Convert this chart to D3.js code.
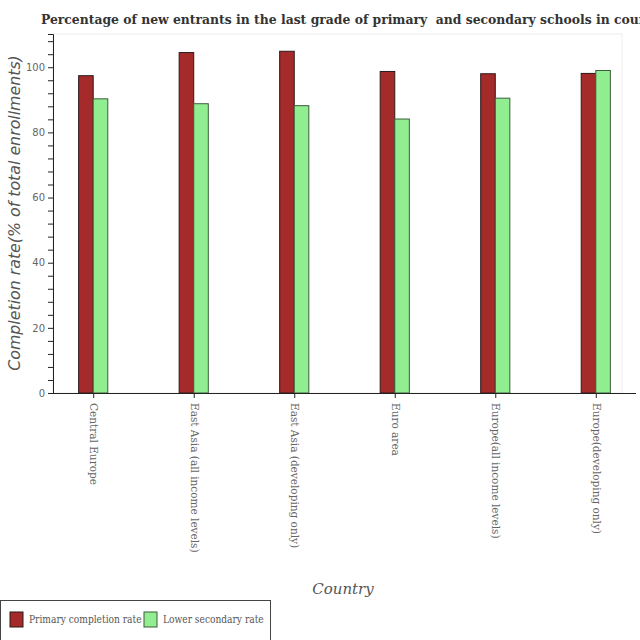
<!DOCTYPE html>
<html><head><meta charset="utf-8">
<script src="https://cdn.jsdelivr.net/npm/d3@7"></script>
<style>body{margin:0;background:#fff}svg{display:block}</style>
</head><body>
<script>
const categories = ["Central Europe","East Asia (all income levels)","East Asia (developing only)","Euro area","Europe(all income levels)","Europe(developing only)"];
const primaryRate = [97.4,104.5,104.9,98.7,98.0,98.1];
const lowerSecondaryRate = [90.3,88.8,88.2,84.1,90.5,99.0];
const seriesNames = ["Primary completion rate","Lower secondary rate"];
const yTickLabels = [0,20,40,60,80,100];
const title = "Percentage of new entrants in the last grade of primary  and secondary schools in countries";

(function(){
const W=640,H=640;
const svg=d3.select("body").append("svg").attr("width",W).attr("height",H);
const pL=53,pR=636,pT=34,pB=393;
const x=d3.scalePoint().domain(categories).range([pL,pR]).padding(0.4);
const y=d3.scaleLinear().domain([0,110.2]).range([pB,pT]);
const bw=x.step()*0.145;

svg.append("text").attr("x",41).attr("y",24).text(title).style("white-space","pre")
  .attr("font-family","DejaVu Serif Condensed, DejaVu Serif").attr("font-weight","bold")
  .attr("font-stretch","condensed").attr("font-size",13.75).attr("fill","#333");

svg.append("rect").attr("x",pL).attr("y",pT).attr("width",622-pL).attr("height",pB-pT)
  .attr("fill","none").attr("stroke","#eee");

const colors=["#a52a2a","#90ee90"], strokes=["#2a1a1a","#3d5c3d"];
[primaryRate,lowerSecondaryRate].forEach((vals,si)=>{
  svg.append("g").selectAll("rect").data(categories).join("rect")
    .attr("x",d=>x(d)+(si===0?-bw:0)).attr("width",bw)
    .attr("y",(d,i)=>y(vals[i])).attr("height",(d,i)=>y(0)-y(vals[i]))
    .attr("fill",colors[si]).attr("stroke",strokes[si]).attr("stroke-width",1);
});

const ya=svg.append("g").attr("transform",`translate(${pL},0)`)
  .call(d3.axisLeft(y).tickValues(d3.range(0,110,4)).tickSize(5)
    .tickFormat(d=>yTickLabels.includes(d)?d:""));
ya.select(".domain").attr("stroke","#222");
ya.selectAll(".tick line").attr("stroke","#222");
ya.selectAll("text").attr("font-family","DejaVu Sans").attr("font-size",10).attr("fill","#666");

const xa=svg.append("g").attr("transform",`translate(0,${pB})`)
  .call(d3.axisBottom(x).tickSize(5).tickSizeOuter(0));
xa.select(".domain").attr("d",`M${pL},0.5H${pR}`).attr("stroke","#222");
xa.selectAll(".tick line").attr("stroke","#222");
xa.selectAll("text").attr("font-family","DejaVu Serif").attr("font-size",10.5).attr("fill","#666")
  .attr("transform","rotate(90)").attr("text-anchor","start").attr("x",10).attr("y",0).attr("dy","0.35em");

svg.append("text").attr("transform",`translate(20,213) rotate(-90)`).attr("text-anchor","middle")
  .attr("font-family","DejaVu Sans").attr("font-style","italic").attr("font-size",15.8).attr("fill","#555")
  .text("Completion rate(% of total enrollments)");
svg.append("text").attr("x",343).attr("y",594).attr("text-anchor","middle")
  .attr("font-family","DejaVu Serif").attr("font-style","italic").attr("font-size",15).attr("fill","#555")
  .text("Country");

const lg=svg.append("g");
lg.append("rect").attr("x",0.5).attr("y",600.5).attr("width",270).attr("height",45).attr("fill","#fff").attr("stroke","#444");
const lx=[10,144];
seriesNames.forEach((n,i)=>{
  lg.append("rect").attr("x",lx[i]).attr("y",612).attr("width",13).attr("height",15)
    .attr("fill",colors[i]).attr("stroke",strokes[i]);
  lg.append("text").attr("x",lx[i]+19).attr("y",623).text(n)
    .attr("font-family","DejaVu Serif Condensed, DejaVu Serif").attr("font-stretch","condensed")
    .attr("font-size",10.1).attr("fill","#555");
});
})();
</script>
</body></html>
